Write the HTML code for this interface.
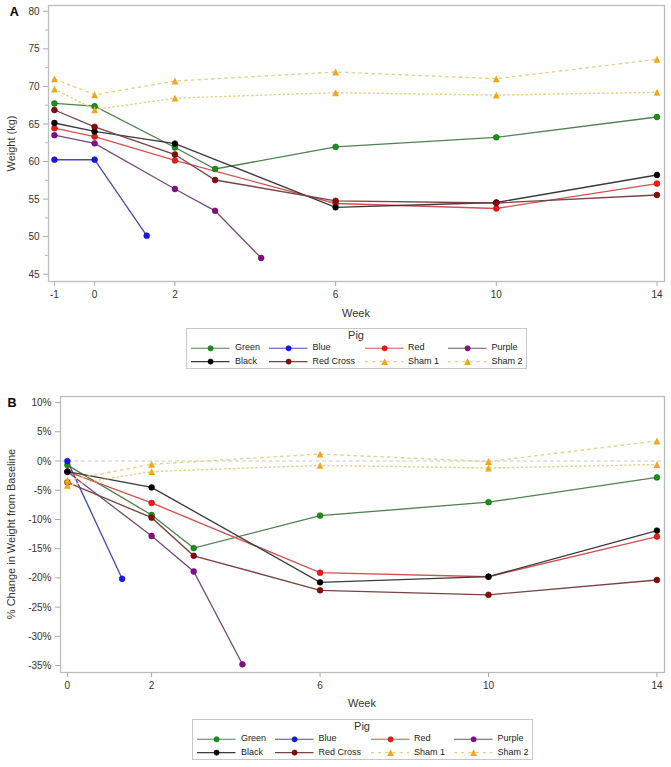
<!DOCTYPE html><html><head><meta charset="utf-8"><style>html,body{margin:0;padding:0;background:#fff;width:671px;height:767px;overflow:hidden}svg{display:block}.tk{font:10px "Liberation Sans", sans-serif;fill:#333}.ttl{font:11px "Liberation Sans", sans-serif;fill:#333}.lg{font:9px "Liberation Sans", sans-serif;fill:#222}.let{font:bold 12.5px "Liberation Sans", sans-serif;fill:#000}</style></head><body>
<svg width="671" height="767" viewBox="0 0 671 767">
<rect x="48.5" y="5.5" width="616" height="276" fill="none" stroke="#bdbdbd" stroke-width="1.3"/>
<line x1="43" y1="274.2" x2="48" y2="274.2" stroke="#a8a8a8"/>
<text x="39.5" y="277.8" text-anchor="end" class="tk">45</text>
<line x1="43" y1="236.64" x2="48" y2="236.64" stroke="#a8a8a8"/>
<text x="39.5" y="240.24" text-anchor="end" class="tk">50</text>
<line x1="43" y1="199.09" x2="48" y2="199.09" stroke="#a8a8a8"/>
<text x="39.5" y="202.69" text-anchor="end" class="tk">55</text>
<line x1="43" y1="161.53" x2="48" y2="161.53" stroke="#a8a8a8"/>
<text x="39.5" y="165.13" text-anchor="end" class="tk">60</text>
<line x1="43" y1="123.98" x2="48" y2="123.98" stroke="#a8a8a8"/>
<text x="39.5" y="127.58" text-anchor="end" class="tk">65</text>
<line x1="43" y1="86.42" x2="48" y2="86.42" stroke="#a8a8a8"/>
<text x="39.5" y="90.02" text-anchor="end" class="tk">70</text>
<line x1="43" y1="48.87" x2="48" y2="48.87" stroke="#a8a8a8"/>
<text x="39.5" y="52.47" text-anchor="end" class="tk">75</text>
<line x1="43" y1="11.31" x2="48" y2="11.31" stroke="#a8a8a8"/>
<text x="39.5" y="14.91" text-anchor="end" class="tk">80</text>
<line x1="45" y1="255.42" x2="48" y2="255.42" stroke="#b8b8b8"/>
<line x1="45" y1="217.87" x2="48" y2="217.87" stroke="#b8b8b8"/>
<line x1="45" y1="180.31" x2="48" y2="180.31" stroke="#b8b8b8"/>
<line x1="45" y1="142.76" x2="48" y2="142.76" stroke="#b8b8b8"/>
<line x1="45" y1="105.2" x2="48" y2="105.2" stroke="#b8b8b8"/>
<line x1="45" y1="67.65" x2="48" y2="67.65" stroke="#b8b8b8"/>
<line x1="45" y1="30.09" x2="48" y2="30.09" stroke="#b8b8b8"/>
<line x1="54.43" y1="282" x2="54.43" y2="286" stroke="#a8a8a8"/>
<text x="54.43" y="298" text-anchor="middle" class="tk">-1</text>
<line x1="94.6" y1="282" x2="94.6" y2="286" stroke="#a8a8a8"/>
<text x="94.6" y="298" text-anchor="middle" class="tk">0</text>
<line x1="174.94" y1="282" x2="174.94" y2="286" stroke="#a8a8a8"/>
<text x="174.94" y="298" text-anchor="middle" class="tk">2</text>
<line x1="335.62" y1="282" x2="335.62" y2="286" stroke="#a8a8a8"/>
<text x="335.62" y="298" text-anchor="middle" class="tk">6</text>
<line x1="496.3" y1="282" x2="496.3" y2="286" stroke="#a8a8a8"/>
<text x="496.3" y="298" text-anchor="middle" class="tk">10</text>
<line x1="656.98" y1="282" x2="656.98" y2="286" stroke="#a8a8a8"/>
<text x="656.98" y="298" text-anchor="middle" class="tk">14</text>
<path d="M54.43 103.4 L94.6 106.2 L174.94 147.5 L215.11 169 L335.62 146.9 L496.3 137.3 L656.98 117" fill="none" stroke="#4f8250" stroke-width="1.35"/><path d="M54.43 159.7 L94.6 159.7 L146.7 235.7" fill="none" stroke="#4a4ab8" stroke-width="1.35"/><path d="M54.43 128.2 L94.6 136.6 L174.94 160.4 L335.62 203.5 L496.3 208.5 L656.98 183.6" fill="none" stroke="#d45050" stroke-width="1.35"/><path d="M54.43 135.2 L94.6 143.3 L174.94 189 L215.11 210.8 L261.18 258" fill="none" stroke="#725072" stroke-width="1.35"/><path d="M54.43 123 L94.6 131.4 L174.94 143.6 L335.62 207.3 L496.3 202.5 L656.98 175" fill="none" stroke="#3a3a3a" stroke-width="1.35"/><path d="M54.43 110 L94.6 126.8 L174.94 154.5 L215.11 180 L335.62 200.8 L496.3 203 L656.98 195" fill="none" stroke="#784444" stroke-width="1.35"/><path d="M54.43 78.9 L94.6 94.7 L174.94 81 L335.62 72 L496.3 78.7 L656.98 59.3" fill="none" stroke="#e4d088" stroke-width="1.35" stroke-dasharray="3.5 3.2"/><path d="M54.43 89 L94.6 109.7 L174.94 98.1 L335.62 92.7 L496.3 95.1 L656.98 92.3" fill="none" stroke="#e4d088" stroke-width="1.35" stroke-dasharray="2.6 1.9"/>
<circle cx="54.43" cy="103.4" r="2.9" fill="#1a921a" stroke="#0e640e" stroke-width="0.6"/><circle cx="94.6" cy="106.2" r="2.9" fill="#1a921a" stroke="#0e640e" stroke-width="0.6"/><circle cx="174.94" cy="147.5" r="2.9" fill="#1a921a" stroke="#0e640e" stroke-width="0.6"/><circle cx="215.11" cy="169" r="2.9" fill="#1a921a" stroke="#0e640e" stroke-width="0.6"/><circle cx="335.62" cy="146.9" r="2.9" fill="#1a921a" stroke="#0e640e" stroke-width="0.6"/><circle cx="496.3" cy="137.3" r="2.9" fill="#1a921a" stroke="#0e640e" stroke-width="0.6"/><circle cx="656.98" cy="117" r="2.9" fill="#1a921a" stroke="#0e640e" stroke-width="0.6"/><circle cx="54.43" cy="159.7" r="2.9" fill="#1818f4" stroke="#0a0aa8" stroke-width="0.6"/><circle cx="94.6" cy="159.7" r="2.9" fill="#1818f4" stroke="#0a0aa8" stroke-width="0.6"/><circle cx="146.7" cy="235.7" r="2.9" fill="#1818f4" stroke="#0a0aa8" stroke-width="0.6"/><circle cx="54.43" cy="128.2" r="2.9" fill="#f01818" stroke="#b80c0c" stroke-width="0.6"/><circle cx="94.6" cy="136.6" r="2.9" fill="#f01818" stroke="#b80c0c" stroke-width="0.6"/><circle cx="174.94" cy="160.4" r="2.9" fill="#f01818" stroke="#b80c0c" stroke-width="0.6"/><circle cx="335.62" cy="203.5" r="2.9" fill="#f01818" stroke="#b80c0c" stroke-width="0.6"/><circle cx="496.3" cy="208.5" r="2.9" fill="#f01818" stroke="#b80c0c" stroke-width="0.6"/><circle cx="656.98" cy="183.6" r="2.9" fill="#f01818" stroke="#b80c0c" stroke-width="0.6"/><circle cx="54.43" cy="135.2" r="2.9" fill="#880c88" stroke="#5c0a62" stroke-width="0.6"/><circle cx="94.6" cy="143.3" r="2.9" fill="#880c88" stroke="#5c0a62" stroke-width="0.6"/><circle cx="174.94" cy="189" r="2.9" fill="#880c88" stroke="#5c0a62" stroke-width="0.6"/><circle cx="215.11" cy="210.8" r="2.9" fill="#880c88" stroke="#5c0a62" stroke-width="0.6"/><circle cx="261.18" cy="258" r="2.9" fill="#880c88" stroke="#5c0a62" stroke-width="0.6"/><circle cx="54.43" cy="123" r="2.9" fill="#000000" stroke="#000000" stroke-width="0.6"/><circle cx="94.6" cy="131.4" r="2.9" fill="#000000" stroke="#000000" stroke-width="0.6"/><circle cx="174.94" cy="143.6" r="2.9" fill="#000000" stroke="#000000" stroke-width="0.6"/><circle cx="335.62" cy="207.3" r="2.9" fill="#000000" stroke="#000000" stroke-width="0.6"/><circle cx="496.3" cy="202.5" r="2.9" fill="#000000" stroke="#000000" stroke-width="0.6"/><circle cx="656.98" cy="175" r="2.9" fill="#000000" stroke="#000000" stroke-width="0.6"/><circle cx="54.43" cy="110" r="2.9" fill="#860c0c" stroke="#5a0606" stroke-width="0.6"/><circle cx="94.6" cy="126.8" r="2.9" fill="#860c0c" stroke="#5a0606" stroke-width="0.6"/><circle cx="174.94" cy="154.5" r="2.9" fill="#860c0c" stroke="#5a0606" stroke-width="0.6"/><circle cx="215.11" cy="180" r="2.9" fill="#860c0c" stroke="#5a0606" stroke-width="0.6"/><circle cx="335.62" cy="200.8" r="2.9" fill="#860c0c" stroke="#5a0606" stroke-width="0.6"/><circle cx="496.3" cy="203" r="2.9" fill="#860c0c" stroke="#5a0606" stroke-width="0.6"/><circle cx="656.98" cy="195" r="2.9" fill="#860c0c" stroke="#5a0606" stroke-width="0.6"/><path d="M54.43 75.45L57.83 82.35L51.03 82.35Z" fill="#f2a71a"/><path d="M94.6 91.25L98 98.15L91.2 98.15Z" fill="#f2a71a"/><path d="M174.94 77.55L178.34 84.45L171.54 84.45Z" fill="#f2a71a"/><path d="M335.62 68.55L339.02 75.45L332.22 75.45Z" fill="#f2a71a"/><path d="M496.3 75.25L499.7 82.15L492.9 82.15Z" fill="#f2a71a"/><path d="M656.98 55.85L660.38 62.75L653.58 62.75Z" fill="#f2a71a"/><path d="M54.43 85.55L57.83 92.45L51.03 92.45Z" fill="#f2a71a"/><path d="M94.6 106.25L98 113.15L91.2 113.15Z" fill="#f2a71a"/><path d="M174.94 94.65L178.34 101.55L171.54 101.55Z" fill="#f2a71a"/><path d="M335.62 89.25L339.02 96.15L332.22 96.15Z" fill="#f2a71a"/><path d="M496.3 91.65L499.7 98.55L492.9 98.55Z" fill="#f2a71a"/><path d="M656.98 88.85L660.38 95.75L653.58 95.75Z" fill="#f2a71a"/>
<text transform="translate(14.5 143.5) rotate(-90)" text-anchor="middle" class="ttl">Weight (kg)</text>
<text x="9.8" y="15.6" class="let">A</text>
<text x="356" y="316.5" text-anchor="middle" class="ttl">Week</text>
<rect x="186.5" y="328.5" width="340" height="40" fill="none" stroke="#c8c8c8"/>
<text x="356" y="338.5" text-anchor="middle" class="ttl">Pig</text>
<line x1="191" y1="348.3" x2="229.5" y2="348.3" stroke="#4f8250" stroke-width="1.1"/>
<circle cx="210.6" cy="348.3" r="2.6" fill="#1a921a" stroke="#0e640e" stroke-width="0.6"/>
<text x="235" y="350.4" class="lg">Green</text>
<line x1="269" y1="348.3" x2="307.5" y2="348.3" stroke="#4a4ab8" stroke-width="1.1"/>
<circle cx="288.6" cy="348.3" r="2.6" fill="#1818f4" stroke="#0a0aa8" stroke-width="0.6"/>
<text x="312.4" y="350.4" class="lg">Blue</text>
<line x1="365" y1="348.3" x2="403.5" y2="348.3" stroke="#d45050" stroke-width="1.1"/>
<circle cx="384.6" cy="348.3" r="2.6" fill="#f01818" stroke="#b80c0c" stroke-width="0.6"/>
<text x="408" y="350.4" class="lg">Red</text>
<line x1="448" y1="348.3" x2="486.5" y2="348.3" stroke="#725072" stroke-width="1.1"/>
<circle cx="467.6" cy="348.3" r="2.6" fill="#880c88" stroke="#5c0a62" stroke-width="0.6"/>
<text x="491.4" y="350.4" class="lg">Purple</text>
<line x1="191" y1="361.6" x2="229.5" y2="361.6" stroke="#3a3a3a" stroke-width="1.1"/>
<circle cx="210.6" cy="361.6" r="2.6" fill="#000000" stroke="#000000" stroke-width="0.6"/>
<text x="235" y="363.7" class="lg">Black</text>
<line x1="269" y1="361.6" x2="307.5" y2="361.6" stroke="#784444" stroke-width="1.1"/>
<circle cx="288.6" cy="361.6" r="2.6" fill="#860c0c" stroke="#5a0606" stroke-width="0.6"/>
<text x="312.4" y="363.7" class="lg">Red Cross</text>
<line x1="365" y1="361.6" x2="403.5" y2="361.6" stroke="#e4d088" stroke-width="1.1" stroke-dasharray="3 4.2"/>
<path d="M384.6 358.15L388 365.05L381.2 365.05Z" fill="#f2a71a"/>
<text x="408" y="363.7" class="lg">Sham 1</text>
<line x1="448" y1="361.6" x2="486.5" y2="361.6" stroke="#e4d088" stroke-width="1.1" stroke-dasharray="3 4.2"/>
<path d="M467.6 358.15L471 365.05L464.2 365.05Z" fill="#f2a71a"/>
<text x="491.4" y="363.7" class="lg">Sham 2</text>
<rect x="60.5" y="396.5" width="604" height="276" fill="none" stroke="#bdbdbd" stroke-width="1.3"/>
<line x1="55" y1="665.54" x2="60" y2="665.54" stroke="#a8a8a8"/>
<text x="51.5" y="669.14" text-anchor="end" class="tk">-35%</text>
<line x1="55" y1="636.32" x2="60" y2="636.32" stroke="#a8a8a8"/>
<text x="51.5" y="639.92" text-anchor="end" class="tk">-30%</text>
<line x1="55" y1="607.1" x2="60" y2="607.1" stroke="#a8a8a8"/>
<text x="51.5" y="610.7" text-anchor="end" class="tk">-25%</text>
<line x1="55" y1="577.88" x2="60" y2="577.88" stroke="#a8a8a8"/>
<text x="51.5" y="581.48" text-anchor="end" class="tk">-20%</text>
<line x1="55" y1="548.66" x2="60" y2="548.66" stroke="#a8a8a8"/>
<text x="51.5" y="552.26" text-anchor="end" class="tk">-15%</text>
<line x1="55" y1="519.44" x2="60" y2="519.44" stroke="#a8a8a8"/>
<text x="51.5" y="523.04" text-anchor="end" class="tk">-10%</text>
<line x1="55" y1="490.22" x2="60" y2="490.22" stroke="#a8a8a8"/>
<text x="51.5" y="493.82" text-anchor="end" class="tk">-5%</text>
<line x1="55" y1="461" x2="60" y2="461" stroke="#a8a8a8"/>
<text x="51.5" y="464.6" text-anchor="end" class="tk">0%</text>
<line x1="55" y1="431.78" x2="60" y2="431.78" stroke="#a8a8a8"/>
<text x="51.5" y="435.38" text-anchor="end" class="tk">5%</text>
<line x1="55" y1="402.56" x2="60" y2="402.56" stroke="#a8a8a8"/>
<text x="51.5" y="406.16" text-anchor="end" class="tk">10%</text>
<line x1="67.4" y1="673" x2="67.4" y2="677" stroke="#a8a8a8"/>
<text x="67.4" y="689" text-anchor="middle" class="tk">0</text>
<line x1="151.62" y1="673" x2="151.62" y2="677" stroke="#a8a8a8"/>
<text x="151.62" y="689" text-anchor="middle" class="tk">2</text>
<line x1="320.06" y1="673" x2="320.06" y2="677" stroke="#a8a8a8"/>
<text x="320.06" y="689" text-anchor="middle" class="tk">6</text>
<line x1="488.5" y1="673" x2="488.5" y2="677" stroke="#a8a8a8"/>
<text x="488.5" y="689" text-anchor="middle" class="tk">10</text>
<line x1="656.94" y1="673" x2="656.94" y2="677" stroke="#a8a8a8"/>
<text x="656.94" y="689" text-anchor="middle" class="tk">14</text>
<line x1="61" y1="461" x2="664" y2="461" stroke="#c6c8ce" stroke-dasharray="3.8 2.9"/>
<path d="M67.4 465.1 L151.62 515 L193.73 548.1 L320.06 515.6 L488.5 502.2 L656.94 477.4" fill="none" stroke="#4f8250" stroke-width="1.35"/><path d="M67.4 461.1 L122.14 578.8" fill="none" stroke="#4a4ab8" stroke-width="1.35"/><path d="M67.4 471.6 L151.62 502.9 L320.06 572.7 L488.5 576.7 L656.94 536.6" fill="none" stroke="#d45050" stroke-width="1.35"/><path d="M67.4 471.8 L151.62 536 L193.73 571.5 L242.45 664.3" fill="none" stroke="#725072" stroke-width="1.35"/><path d="M67.4 471.6 L151.62 487.4 L320.06 582.3 L488.5 576.7 L656.94 530.6" fill="none" stroke="#3a3a3a" stroke-width="1.35"/><path d="M67.4 482.3 L151.62 517.7 L193.73 555.8 L320.06 590.3 L488.5 594.8 L656.94 580" fill="none" stroke="#784444" stroke-width="1.35"/><path d="M67.4 480.3 L151.62 464.2 L320.06 454.1 L488.5 461.5 L656.94 441" fill="none" stroke="#e4d088" stroke-width="1.35" stroke-dasharray="3.5 3.2"/><path d="M67.4 485.2 L151.62 471.6 L320.06 465.4 L488.5 468 L656.94 464.5" fill="none" stroke="#e4d088" stroke-width="1.35" stroke-dasharray="2.6 1.9"/>
<circle cx="67.4" cy="465.1" r="2.9" fill="#1a921a" stroke="#0e640e" stroke-width="0.6"/><circle cx="151.62" cy="515" r="2.9" fill="#1a921a" stroke="#0e640e" stroke-width="0.6"/><circle cx="193.73" cy="548.1" r="2.9" fill="#1a921a" stroke="#0e640e" stroke-width="0.6"/><circle cx="320.06" cy="515.6" r="2.9" fill="#1a921a" stroke="#0e640e" stroke-width="0.6"/><circle cx="488.5" cy="502.2" r="2.9" fill="#1a921a" stroke="#0e640e" stroke-width="0.6"/><circle cx="656.94" cy="477.4" r="2.9" fill="#1a921a" stroke="#0e640e" stroke-width="0.6"/><circle cx="67.4" cy="461.1" r="2.9" fill="#1818f4" stroke="#0a0aa8" stroke-width="0.6"/><circle cx="122.14" cy="578.8" r="2.9" fill="#1818f4" stroke="#0a0aa8" stroke-width="0.6"/><circle cx="67.4" cy="471.6" r="2.9" fill="#f01818" stroke="#b80c0c" stroke-width="0.6"/><circle cx="151.62" cy="502.9" r="2.9" fill="#f01818" stroke="#b80c0c" stroke-width="0.6"/><circle cx="320.06" cy="572.7" r="2.9" fill="#f01818" stroke="#b80c0c" stroke-width="0.6"/><circle cx="488.5" cy="576.7" r="2.9" fill="#f01818" stroke="#b80c0c" stroke-width="0.6"/><circle cx="656.94" cy="536.6" r="2.9" fill="#f01818" stroke="#b80c0c" stroke-width="0.6"/><circle cx="67.4" cy="471.8" r="2.9" fill="#880c88" stroke="#5c0a62" stroke-width="0.6"/><circle cx="151.62" cy="536" r="2.9" fill="#880c88" stroke="#5c0a62" stroke-width="0.6"/><circle cx="193.73" cy="571.5" r="2.9" fill="#880c88" stroke="#5c0a62" stroke-width="0.6"/><circle cx="242.45" cy="664.3" r="2.9" fill="#880c88" stroke="#5c0a62" stroke-width="0.6"/><circle cx="67.4" cy="471.6" r="2.9" fill="#000000" stroke="#000000" stroke-width="0.6"/><circle cx="151.62" cy="487.4" r="2.9" fill="#000000" stroke="#000000" stroke-width="0.6"/><circle cx="320.06" cy="582.3" r="2.9" fill="#000000" stroke="#000000" stroke-width="0.6"/><circle cx="488.5" cy="576.7" r="2.9" fill="#000000" stroke="#000000" stroke-width="0.6"/><circle cx="656.94" cy="530.6" r="2.9" fill="#000000" stroke="#000000" stroke-width="0.6"/><circle cx="67.4" cy="482.3" r="2.9" fill="#860c0c" stroke="#5a0606" stroke-width="0.6"/><circle cx="151.62" cy="517.7" r="2.9" fill="#860c0c" stroke="#5a0606" stroke-width="0.6"/><circle cx="193.73" cy="555.8" r="2.9" fill="#860c0c" stroke="#5a0606" stroke-width="0.6"/><circle cx="320.06" cy="590.3" r="2.9" fill="#860c0c" stroke="#5a0606" stroke-width="0.6"/><circle cx="488.5" cy="594.8" r="2.9" fill="#860c0c" stroke="#5a0606" stroke-width="0.6"/><circle cx="656.94" cy="580" r="2.9" fill="#860c0c" stroke="#5a0606" stroke-width="0.6"/><path d="M67.4 476.85L70.8 483.75L64 483.75Z" fill="#f2a71a"/><path d="M151.62 460.75L155.02 467.65L148.22 467.65Z" fill="#f2a71a"/><path d="M320.06 450.65L323.46 457.55L316.66 457.55Z" fill="#f2a71a"/><path d="M488.5 458.05L491.9 464.95L485.1 464.95Z" fill="#f2a71a"/><path d="M656.94 437.55L660.34 444.45L653.54 444.45Z" fill="#f2a71a"/><path d="M67.4 481.75L70.8 488.65L64 488.65Z" fill="#f2a71a"/><path d="M151.62 468.15L155.02 475.05L148.22 475.05Z" fill="#f2a71a"/><path d="M320.06 461.95L323.46 468.85L316.66 468.85Z" fill="#f2a71a"/><path d="M488.5 464.55L491.9 471.45L485.1 471.45Z" fill="#f2a71a"/><path d="M656.94 461.05L660.34 467.95L653.54 467.95Z" fill="#f2a71a"/>
<text transform="translate(14.5 534) rotate(-90)" text-anchor="middle" class="ttl">% Change in Weight from Baseline</text>
<text x="7.4" y="406.8" class="let">B</text>
<text x="362" y="707.4" text-anchor="middle" class="ttl">Week</text>
<rect x="192.5" y="719.5" width="340" height="40" fill="none" stroke="#c8c8c8"/>
<text x="362" y="729.5" text-anchor="middle" class="ttl">Pig</text>
<line x1="197" y1="739.3" x2="235.5" y2="739.3" stroke="#4f8250" stroke-width="1.1"/>
<circle cx="216.6" cy="739.3" r="2.6" fill="#1a921a" stroke="#0e640e" stroke-width="0.6"/>
<text x="241" y="741.4" class="lg">Green</text>
<line x1="275" y1="739.3" x2="313.5" y2="739.3" stroke="#4a4ab8" stroke-width="1.1"/>
<circle cx="294.6" cy="739.3" r="2.6" fill="#1818f4" stroke="#0a0aa8" stroke-width="0.6"/>
<text x="318.4" y="741.4" class="lg">Blue</text>
<line x1="371" y1="739.3" x2="409.5" y2="739.3" stroke="#d45050" stroke-width="1.1"/>
<circle cx="390.6" cy="739.3" r="2.6" fill="#f01818" stroke="#b80c0c" stroke-width="0.6"/>
<text x="414" y="741.4" class="lg">Red</text>
<line x1="454" y1="739.3" x2="492.5" y2="739.3" stroke="#725072" stroke-width="1.1"/>
<circle cx="473.6" cy="739.3" r="2.6" fill="#880c88" stroke="#5c0a62" stroke-width="0.6"/>
<text x="497.4" y="741.4" class="lg">Purple</text>
<line x1="197" y1="752.6" x2="235.5" y2="752.6" stroke="#3a3a3a" stroke-width="1.1"/>
<circle cx="216.6" cy="752.6" r="2.6" fill="#000000" stroke="#000000" stroke-width="0.6"/>
<text x="241" y="754.7" class="lg">Black</text>
<line x1="275" y1="752.6" x2="313.5" y2="752.6" stroke="#784444" stroke-width="1.1"/>
<circle cx="294.6" cy="752.6" r="2.6" fill="#860c0c" stroke="#5a0606" stroke-width="0.6"/>
<text x="318.4" y="754.7" class="lg">Red Cross</text>
<line x1="371" y1="752.6" x2="409.5" y2="752.6" stroke="#e4d088" stroke-width="1.1" stroke-dasharray="3 4.2"/>
<path d="M390.6 749.15L394 756.05L387.2 756.05Z" fill="#f2a71a"/>
<text x="414" y="754.7" class="lg">Sham 1</text>
<line x1="454" y1="752.6" x2="492.5" y2="752.6" stroke="#e4d088" stroke-width="1.1" stroke-dasharray="3 4.2"/>
<path d="M473.6 749.15L477 756.05L470.2 756.05Z" fill="#f2a71a"/>
<text x="497.4" y="754.7" class="lg">Sham 2</text>
</svg></body></html>
